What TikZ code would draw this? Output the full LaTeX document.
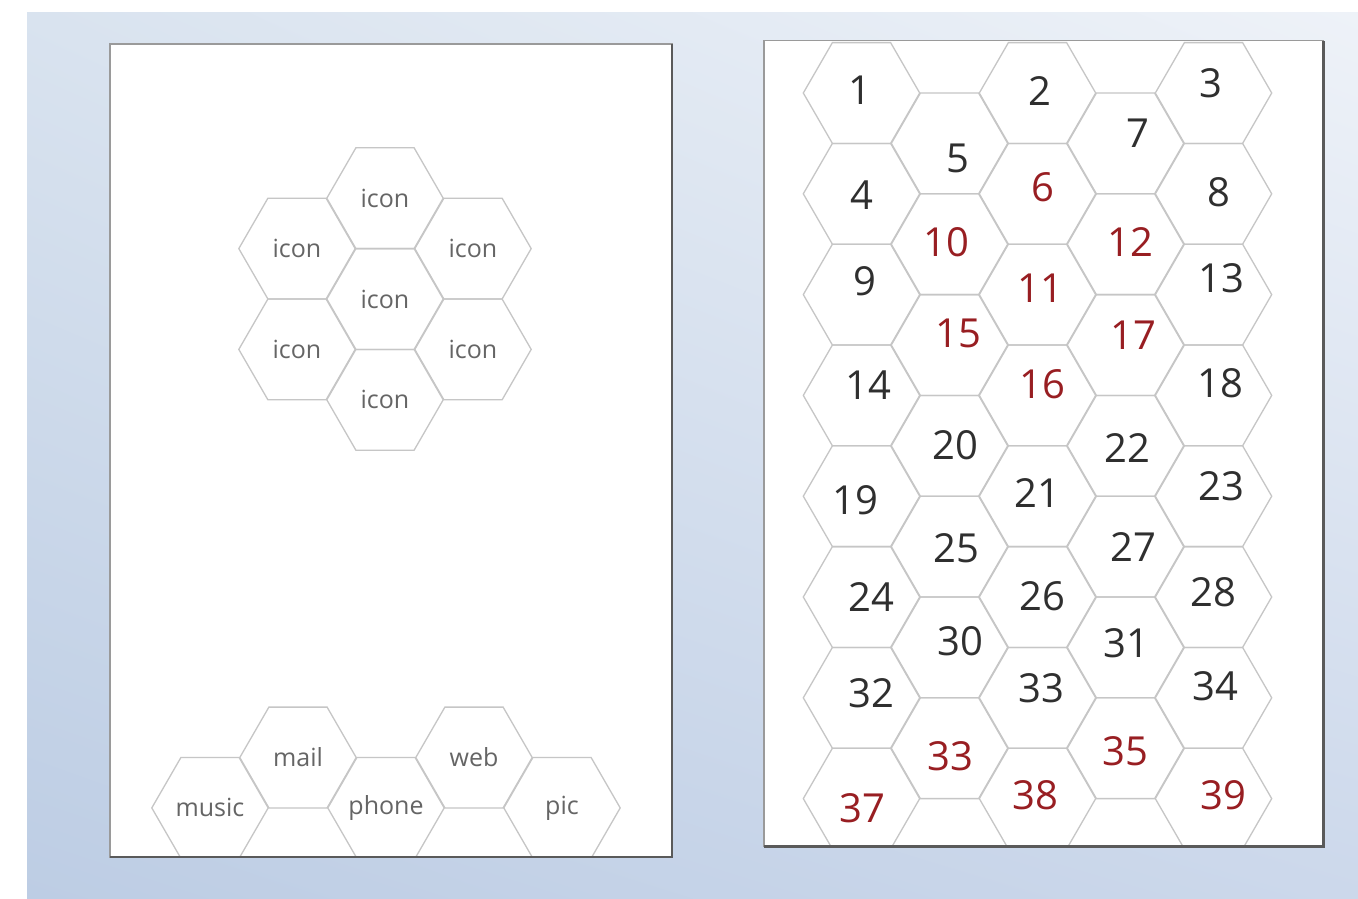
\documentclass[tikz,border=0pt]{standalone}
\usepackage{fontspec}
\setmainfont{Open Sans}
\usetikzlibrary{
    shapes.geometric,
    shadings,
    calc,
    positioning
}
\definecolor{bgUL}{HTML}{D9E3EF}
\definecolor{bgUR}{HTML}{EEF2F8}
\definecolor{bgLL}{HTML}{BDCDE4}
\definecolor{bgLR}{HTML}{CCD8EB}
\definecolor{hexline}{HTML}{C6C6C6}
\definecolor{appgray}{HTML}{656565}
\definecolor{numgray}{HTML}{2F2F2F}
\definecolor{numred}{HTML}{981E22}
\definecolor{edgegray}{HTML}{9A9A9A}
\definecolor{edgedark}{HTML}{5A5A5A}
\tikzset{
    % --- Hexagonal cell ---
    hexcell/.style = {
        regular polygon, regular polygon sides=6,
        draw=hexline, line width=1.3pt,
        minimum size=116.4pt, inner sep=0pt
    },
    % --- App name inside a cell (kept out of the cell size) ---
    appname/.style = {
        font=\fontsize{25}{30}\selectfont, text=appgray, inner sep=0pt
    },
    % --- Cell number ---
    num/.style = {
        font=\fontsize{40}{48}\selectfont, text=numgray, inner sep=0pt
    },
    % --- Highlighted cell number ---
    hot/.style = {
        num, text=numred
    },
    % --- Screen panel ---
    screen/.style = {
        rectangle, fill=white, draw=edgegray, line width=1.5pt,
        inner sep=0pt, outer sep=0pt
    },
    % --- Dark lower/right edge of a screen ---
    screen edge/.style = {
        draw=edgedark, line width=2.6pt
    }
}

\begin{document}
\begin{tikzpicture}[x=1pt, y=-1pt]

\useasboundingbox (0,0) rectangle (1358,898);

% ---------------------------------------------------------
% Backdrop
% ---------------------------------------------------------
\shade[upper left=bgUL, upper right=bgUR, lower left=bgLL, lower right=bgLR]
    (27,12) rectangle (1358,898);

% ---------------------------------------------------------
% Left screen: icon cluster and dock
% ---------------------------------------------------------
\node[screen, minimum width=562pt, minimum height=813pt] (LeftScreen) at (391,450.5) {};

\begin{scope}
\clip (LeftScreen.south west) rectangle (LeftScreen.north east);
\node[hexcell, label={[appname]center:icon}] (IconTop) at (385,198.2) {};
\node[hexcell, label={[appname]center:icon}] (IconUL) at (297,248.6) {};
\node[hexcell, label={[appname]center:icon}] (IconUR) at (473,248.6) {};
\node[hexcell, label={[appname]center:icon}] (IconMid) at (385,299) {};
\node[hexcell, label={[appname]center:icon}] (IconLL) at (297,349.4) {};
\node[hexcell, label={[appname]center:icon}] (IconLR) at (473,349.4) {};
\node[hexcell, label={[appname]center:icon}] (IconBot) at (385,399.8) {};

% dock row
\node[hexcell, label={[appname]center:music}] (Music) at (210,807.9) {};
\node[hexcell, label={[appname]center:mail}] (Mail) at (298,757.5) {};
\node[hexcell, label={[appname]center:phone}] (Phone) at (386,807.9) {};
\node[hexcell, label={[appname]center:web}] (Web) at (474,757.5) {};
\node[hexcell, label={[appname]center:pic}] (Pic) at (562,807.9) {};
\end{scope}
\draw[screen edge] (LeftScreen.south west) -- (LeftScreen.south east) -- (LeftScreen.north east);

% ---------------------------------------------------------
% Right screen: numbered cell grid
% ---------------------------------------------------------
\node[screen, minimum width=559pt, minimum height=806pt] (RightScreen) at (1043.7,443.7) {};

\begin{scope}
\clip (RightScreen.south west) rectangle (RightScreen.north east);
% column 1
\node[hexcell] (h1) at (861.5,93) {};
\node[hexcell] (h4) at (861.5,193.8) {};
\node[hexcell] (h9) at (861.5,294.6) {};
\node[hexcell] (h14) at (861.5,395.4) {};
\node[hexcell] (h19) at (861.5,496.2) {};
\node[hexcell] (h24) at (861.5,597) {};
\node[hexcell] (h32) at (861.5,697.8) {};
\node[hexcell] (h37) at (861.5,798.6) {};
% column 2
\node[hexcell] (h5) at (949.5,143.4) {};
\node[hexcell] (h10) at (949.5,244.2) {};
\node[hexcell] (h15) at (949.5,345) {};
\node[hexcell] (h20) at (949.5,445.8) {};
\node[hexcell] (h25) at (949.5,546.6) {};
\node[hexcell] (h30) at (949.5,647.4) {};
\node[hexcell] (h33b) at (949.5,748.2) {};
% column 3
\node[hexcell] (h2) at (1037.5,93) {};
\node[hexcell] (h6) at (1037.5,193.8) {};
\node[hexcell] (h11) at (1037.5,294.6) {};
\node[hexcell] (h16) at (1037.5,395.4) {};
\node[hexcell] (h21) at (1037.5,496.2) {};
\node[hexcell] (h26) at (1037.5,597) {};
\node[hexcell] (h33) at (1037.5,697.8) {};
\node[hexcell] (h38) at (1037.5,798.6) {};
% column 4
\node[hexcell] (h7) at (1125.5,143.4) {};
\node[hexcell] (h12) at (1125.5,244.2) {};
\node[hexcell] (h17) at (1125.5,345) {};
\node[hexcell] (h22) at (1125.5,445.8) {};
\node[hexcell] (h27) at (1125.5,546.6) {};
\node[hexcell] (h31) at (1125.5,647.4) {};
\node[hexcell] (h35) at (1125.5,748.2) {};
% column 5
\node[hexcell] (h3) at (1213.5,93) {};
\node[hexcell] (h8) at (1213.5,193.8) {};
\node[hexcell] (h13) at (1213.5,294.6) {};
\node[hexcell] (h18) at (1213.5,395.4) {};
\node[hexcell] (h23) at (1213.5,496.2) {};
\node[hexcell] (h28) at (1213.5,597) {};
\node[hexcell] (h34) at (1213.5,697.8) {};
\node[hexcell] (h39) at (1213.5,798.6) {};
\end{scope}
\draw[screen edge] (RightScreen.south west) -- (RightScreen.south east) -- (RightScreen.north east);

% numbers (set a little off the cell centres)
\node[num] (n1) at (860,90) {1};
\node[num] (n2) at (1040,91) {2};
\node[num] (n3) at (1211,83) {3};
\node[num] (n4) at (862,195) {4};
\node[num] (n5) at (958,158) {5};
\node[hot] (n6) at (1043,187) {6};
\node[num] (n7) at (1138,133) {7};
\node[num] (n8) at (1219,192) {8};
\node[num] (n9) at (865,281) {9};
\node[hot] (n10) at (946.5,242) {10};
\node[hot] (n11) at (1040,288) {11};
\node[hot] (n12) at (1130,242) {12};
\node[num] (n13) at (1221.5,278.5) {13};
\node[num] (n14) at (868,385) {14};
\node[hot] (n15) at (958,333) {15};
\node[hot] (n16) at (1042,384) {16};
\node[hot] (n17) at (1133,335) {17};
\node[num] (n18) at (1220,383) {18};
\node[num] (n19) at (855,500) {19};
\node[num] (n20) at (955,445) {20};
\node[num] (n21) at (1037,493) {21};
\node[num] (n22) at (1127,448) {22};
\node[num] (n23) at (1221.5,486.5) {23};
\node[num] (n24) at (871,597) {24};
\node[num] (n25) at (956,548) {25};
\node[num] (n26) at (1042,596) {26};
\node[num] (n27) at (1133,547) {27};
\node[num] (n28) at (1213,592) {28};
\node[num] (n30) at (960,641.5) {30};
\node[num] (n31) at (1126.5,643) {31};
\node[num] (n32) at (871.5,693) {32};
\node[num] (n33) at (1041,688) {33};
\node[num] (n34) at (1215,686.5) {34};
\node[hot] (n33b) at (950,756.5) {33};
\node[hot] (n35) at (1125,751.5) {35};
\node[hot] (n37) at (862.5,808) {37};
\node[hot] (n38) at (1035,795) {38};
\node[hot] (n39) at (1223,795) {39};

\end{tikzpicture}
\end{document}
